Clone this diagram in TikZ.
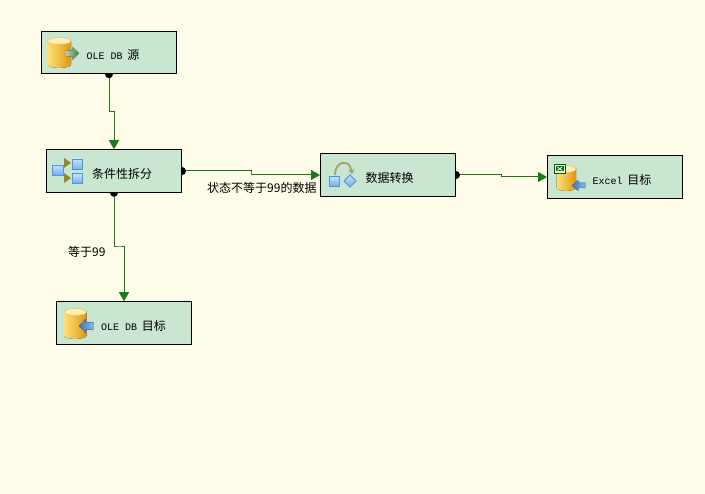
\documentclass[tikz,border=0pt]{standalone}
\usepackage{fontspec}
\setmainfont{Noto Sans CJK SC}
\newfontfamily\latinmono{Liberation Mono}
\usetikzlibrary{arrows.meta,calc}
\definecolor{bgc}{HTML}{FFFDE9}
\definecolor{boxc}{HTML}{C9E6D0}
\definecolor{flow}{HTML}{1B7A1B}
\definecolor{goldl}{HTML}{FFDF70}
\definecolor{goldd}{HTML}{DD9414}
\definecolor{bluel}{HTML}{C4E2FA}
\definecolor{blued}{HTML}{4F94DC}
\tikzset{
  comp/.style={draw=black,line width=1pt,fill=boxc,minimum width=135pt,minimum height=42.5pt,inner sep=0pt},
  lbl/.style={inner sep=0pt,font=\fontsize{12}{12}\selectfont,text=black},
  linklabel/.style={inner sep=0pt,font=\fontsize{12}{12}\selectfont,text=black},
  flowline/.style={draw=flow,line width=1pt,-{Triangle[length=9pt,width=10pt,fill=flow]}},
  portdot/.style={circle,fill=black,inner sep=0pt,minimum size=8pt},
  bluebox/.style={draw=blued,line width=0.8pt,top color=bluel,bottom color=blued!75},
  bluearrow/.style={draw=blued!80!black,line width=0.5pt,left color=blued!80!black,right color=blued!65},
  chev/.style={fill=olive!65!gray,draw=none}
}
\newcommand{\mono}[1]{{\latinmono\fontsize{10}{10}\selectfont #1}\hspace{2pt}}
\newcommand{\dbcyl}[4]{% x, y top, width, height
  \fill[left color=goldl,right color=goldd,middle color=goldd!45!goldl]
    (#1,#2+3.5) -- (#1,#2+#4-3.5)
    .. controls (#1,#2+#4+1) and (#1+#3,#2+#4+1) .. (#1+#3,#2+#4-3.5)
    -- (#1+#3,#2+3.5) -- cycle;
  \fill[goldl!50!white,draw=goldd!70,line width=0.4pt] (#1,#2+3.5)
    .. controls (#1,#2-1) and (#1+#3,#2-1) .. (#1+#3,#2+3.5)
    .. controls (#1+#3,#2+8) and (#1,#2+8) .. cycle;
}
\begin{document}
\begin{tikzpicture}[x=1pt,y=-1pt]
\useasboundingbox (0,0) rectangle (705,494);
\fill[bgc] (0,0) rectangle (705,494);
% components
\node[comp] (src) at (109,52.5) {};
\node[comp] (split) at (114,171) {};
\node[comp] (conv) at (388,175) {};
\node[comp] (xls) at (615,177) {};
\node[comp] (dst) at (124,323) {};
% labels in components
\node[lbl,anchor=west] (srct) at (86.5,55) {\mono{OLE DB} 源};
\node[lbl,anchor=west] (splitt) at (92,174) {条件性拆分};
\node[lbl,anchor=west] (convt) at (365.5,178) {数据转换};
\node[lbl,anchor=west] (xlst) at (592.5,180) {\mono{Excel} 目标};
\node[lbl,anchor=west] (dstt) at (101,326) {\mono{OLE DB} 目标};
% connector labels
\node[linklabel,anchor=west] (c1) at (207,188) {状态不等于99的数据};
\node[linklabel,anchor=west] (c2) at (68,252) {等于99};
% connectors
\draw[flowline] (src.south) |- ($(src.south)!.5!(split.north)$) -| (split.north);
\draw[flowline] (split.east) -| ($(split.east)!.5!(conv.west)$) |- (conv.west);
\draw[flowline] (conv.east) -| ($(conv.east)!.5!(xls.west)$) |- (xls.west);
\draw[flowline] (split.south) |- ($(split.south)!.5!(dst.north)$) -| (dst.north);
% output ports
\begin{scope}
\clip (src.south west) rectangle ($(src.south east)+(0,5)$);
\node[portdot] (p1) at (src.south) {};
\end{scope}
\begin{scope}
\clip (split.south west) rectangle ($(split.south east)+(0,5)$);
\node[portdot] (p2) at (split.south) {};
\end{scope}
\begin{scope}
\clip (split.north east) rectangle ($(split.south east)+(5,0)$);
\node[portdot] (p3) at (split.east) {};
\end{scope}
\begin{scope}
\clip (conv.north east) rectangle ($(conv.south east)+(5,0)$);
\node[portdot] (p4) at (conv.east) {};
\end{scope}
% icon: source
\dbcyl{47.5}{37.5}{23.5}{30.5}
\fill[left color=green!25!gray!50!white,right color=green!35!black!75] (66,50.5) -- (72.5,50.5) -- (72.5,47) -- (79,53.5) -- (72.5,60) -- (72.5,56.5) -- (66,56.5) -- cycle;
% icon: split
\fill[bluebox] (52.5,165) rectangle (63,175);
\fill[chev] (64,158) -- (71,163) -- (64,168) -- cycle;
\fill[chev] (64,173) -- (71,178) -- (64,183) -- cycle;
\fill[bluebox] (72.5,159) rectangle (82,169.5);
\fill[bluebox] (72.5,173.5) rectangle (82,183);
% icon: convert
\draw[olive!45!gray!80,line width=1.8pt,-{Stealth[length=5pt,width=7pt]}] (335,175) .. controls (335,160) and (350,159) .. (352,174);
\fill[bluebox] (329.5,176.5) rectangle (339,186);
\fill[bluebox] (350,175) -- (356,181) -- (350,187) -- (344,181) -- cycle;
% icon: excel destination
\dbcyl{556.5}{165.5}{19.5}{25.5}
\fill[white,draw=green!35!black,line width=0.8pt] (554.5,164.5) rectangle (565,173);
\fill[green!45!black] (556,166) rectangle (563.5,171.5);
\draw[white,line width=0.8pt] (557.5,167) -- (562,170.5) (562,167) -- (557.5,170.5);
\fill[bluearrow] (585,183) -- (578,183) -- (578,180.5) -- (572,185.5) -- (578,190.5) -- (578,188) -- (585,188) -- cycle;
% icon: OLE destination
\dbcyl{64}{308.5}{22.5}{30.5}
\fill[bluearrow] (93,322.5) -- (85.5,322.5) -- (85.5,319.5) -- (79,326) -- (85.5,332.5) -- (85.5,329.5) -- (93,329.5) -- cycle;
\end{tikzpicture}
\end{document}
